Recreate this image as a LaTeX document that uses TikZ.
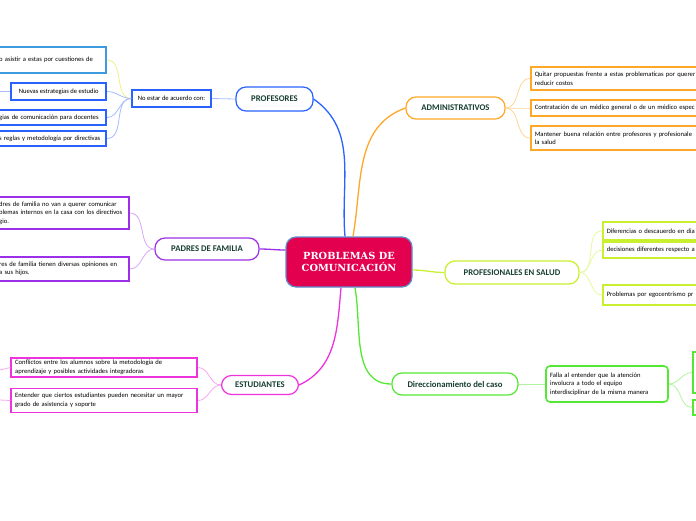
\documentclass[tikz,border=0pt]{standalone}
\usepackage{fontspec}
\setmainfont{Carlito}
\newfontfamily\rootfont{DejaVu Serif}
\usetikzlibrary{calc}
\definecolor{mmroot}{HTML}{E3004F}
\definecolor{mmrootline}{HTML}{5B8FD0}
\definecolor{mmtext}{HTML}{173F30}
\definecolor{mmblue}{HTML}{2962FF}
\definecolor{mmbluelt}{HTML}{A6BCFF}
\definecolor{mmcyan}{HTML}{3D9BE0}
\definecolor{mmyel}{HTML}{EEF08A}
\definecolor{mmorange}{HTML}{FFA726}
\definecolor{mmorangelt}{HTML}{FFD592}
\definecolor{mmpurple}{HTML}{9B30E8}
\definecolor{mmpurplelt}{HTML}{D6A8F5}
\definecolor{mmlime}{HTML}{C8F030}
\definecolor{mmlimelt}{HTML}{E6F8A0}
\definecolor{mmmagenta}{HTML}{EE33DD}
\definecolor{mmmagentalt}{HTML}{F6A8EE}
\definecolor{mmgreen}{HTML}{55E833}
\definecolor{mmgreenlt}{HTML}{B0F4A0}

\begin{document}
\begin{tikzpicture}[x=1pt,y=-1pt,
  root/.style={draw=mmrootline,line width=1.2pt,fill=mmroot,rounded corners=10pt,
    minimum width=126pt,minimum height=50pt,text=white,align=center,
    font=\rootfont\bfseries\fontsize{9.8}{12}\selectfont},
  topic/.style={draw,rounded corners=10pt,line width=1.2pt,fill=white,text=mmtext,
    inner sep=0pt,font=\fontsize{8.7}{10}\selectfont\bfseries},
  card/.style={draw,line width=1.6pt,fill=white,align=left,inner sep=4pt,
    font=\fontsize{6.6}{8.5}\selectfont},
  conn/.style={line width=1.3pt},
  twig/.style={line width=0.8pt}
]
  \useasboundingbox (0,0) rectangle (696,520);
  \clip (0,0) rectangle (696,520);

  % Center
  \node[root] (root) at (349,262) {PROBLEMAS DE\\COMUNICACIÓN};

  % Profesores
  \node[topic,draw=mmblue,minimum width=77pt,minimum height=24pt] (prof) at (274.5,99) {PROFESORES};
  \node[card,draw=mmblue,minimum width=79pt,minimum height=17pt,inner sep=2pt] (acuerdo) at (171.5,98.5) {No estar de acuerdo con:};
  \node[card,draw=mmcyan,text width=103pt,minimum height=26pt,anchor=east] (pr1) at (107,60) {o asistir a estas por cuestiones de};
  \node[card,draw=mmblue,minimum width=95pt,minimum height=17pt,anchor=east] (pr2) at (107,91.5) {Nuevas estrategias de estudio};
  \node[card,draw=mmblue,text width=103pt,minimum height=15pt,anchor=east] (pr3) at (107,117.5) {gias de comunicación para docentes};
  \node[card,draw=mmblue,text width=103pt,minimum height=15pt,anchor=east] (pr4) at (107,138.5) {s reglas y metodología por directivas};
  \coordinate (pr2stub) at (0,91.5);

  \draw[conn,mmblue] ($(root.north)+(-4,0)$) to[out=95,in=-35] (prof.east);
  \draw[twig,mmbluelt] (prof.west) -- (acuerdo.east);
  \draw[twig,mmyel] (acuerdo.west) to[out=180,in=0] (pr1.east);
  \foreach \c in {pr2,pr3,pr4}
    \draw[twig,mmbluelt] (acuerdo.west) to[out=180,in=0] (\c.east);
  \draw[twig,mmbluelt] (pr2.west) -- (pr2stub);

  % Administrativos
  \node[topic,draw=mmorange,minimum width=99pt,minimum height=22pt] (admin) at (455.5,108) {ADMINISTRATIVOS};
  \node[card,draw=mmorange,text width=200pt,minimum height=23pt,anchor=west] (ad1) at (530,78.5) {Quitar propuestas frente a estas problematicas por querer\\reducir costos};
  \node[card,draw=mmorange,text width=200pt,minimum height=16pt,anchor=west] (ad2) at (530,108) {Contratación de un médico general o de un médico espec};
  \node[card,draw=mmorange,text width=200pt,minimum height=24pt,anchor=west] (ad3) at (530,138) {Mantener buena relación entre profesores y profesionale\\la salud};

  \draw[conn,mmorange] ($(root.north)+(4,0)$) to[out=80,in=200] (admin.west);
  \foreach \c in {ad1,ad2,ad3}
    \draw[twig,mmorangelt] (admin.east) to[out=0,in=180] (\c.west);

  % Padres de familia
  \node[topic,draw=mmpurple,minimum width=104pt,minimum height=22pt] (padres) at (207,249) {PADRES DE FAMILIA};
  \node[card,draw=mmpurple,text width=126pt,minimum height=32pt,anchor=east] (pa1) at (130,213) {dres de familia no van a querer comunicar\\blemas internos en la casa con los directivos\\gio.};
  \node[card,draw=mmpurple,text width=126pt,minimum height=24pt,anchor=east] (pa2) at (130,269) {res de familia tienen diversas opiniones en\\a sus hijos.};

  \draw[conn,mmpurple] ($(root.west)+(0,-12)$) to[out=180,in=0] (padres.east);
  \foreach \c in {pa1,pa2}
    \draw[twig,mmpurplelt] (padres.west) to[out=180,in=0] (\c.east);

  % Profesionales en salud
  \node[topic,draw=mmlime,minimum width=134pt,minimum height=23pt] (salud) at (512,272.5) {PROFESIONALES EN SALUD};
  \node[card,draw=mmlime,text width=200pt,minimum height=18pt,anchor=west] (sa1) at (602,231) {Diferencias o descauerdo en dia};
  \node[card,draw=mmlime,text width=200pt,minimum height=16pt,anchor=west] (sa2) at (602,250) {decisiones diferentes respecto a};
  \node[card,draw=mmlime,text width=200pt,minimum height=20pt,anchor=west] (sa3) at (602,295) {Problemas por egocentrismo pr};

  \draw[conn,mmlime] ($(root.east)+(0,8)$) to[out=0,in=180] (salud.west);
  \foreach \c in {sa1,sa2,sa3}
    \draw[twig,mmlimelt] (salud.east) to[out=0,in=180] (\c.west);

  % Estudiantes
  \node[topic,draw=mmmagenta,minimum width=77pt,minimum height=19pt] (estud) at (260,385) {ESTUDIANTES};
  \node[card,draw=mmmagenta,text width=178pt,minimum height=19pt,inner ysep=1.5pt,anchor=east] (es1) at (198,367.5) {Conflictos entre los alumnos sobre la metodología de\\aprendizaje y posibles actividades integradoras};
  \node[card,draw=mmmagenta,text width=178pt,minimum height=24pt,anchor=east] (es2) at (198,400.5) {Entender que ciertos estudiantes pueden necesitar un mayor\\grado de asistencia y soporte};
  \coordinate (es1stub) at (0,370);
  \coordinate (es2stub) at (0,400);

  \draw[conn,mmmagenta] ($(root.south)+(-8,0)$) to[out=-95,in=25] (estud.east);
  \foreach \c in {es1,es2}
    \draw[twig,mmmagentalt] (estud.west) to[out=180,in=0] (\c.east);
  \draw[twig,mmmagentalt] (es1.west) -- (es1stub);
  \draw[twig,mmmagentalt] (es2.west) -- (es2stub);

  % Direccionamiento del caso
  \node[topic,draw=mmgreen,minimum width=126pt,minimum height=22pt] (direc) at (455,384) {Direccionamiento del caso};
  \node[card,draw=mmgreen,rounded corners=4pt,text width=114pt,minimum height=36pt] (falla) at (607,384) {Falla al entender que la atención\\involucra a todo el equipo\\interdisciplinar de la misma manera};
  \node[card,draw=mmgreen,minimum width=40pt,minimum height=41pt,anchor=west] (di1) at (692,372.5) {};
  \node[card,draw=mmgreen,minimum width=40pt,minimum height=15pt,anchor=west] (di2) at (692,407.5) {};

  \draw[conn,mmgreen] ($(root.south)+(6,0)$) to[out=-80,in=180] (direc.west);
  \draw[twig,mmgreenlt] (direc.east) -- (falla.west);
  \foreach \c in {di1,di2}
    \draw[twig,mmgreenlt] (falla.east) to[out=0,in=180] (\c.west);
\end{tikzpicture}
\end{document}
